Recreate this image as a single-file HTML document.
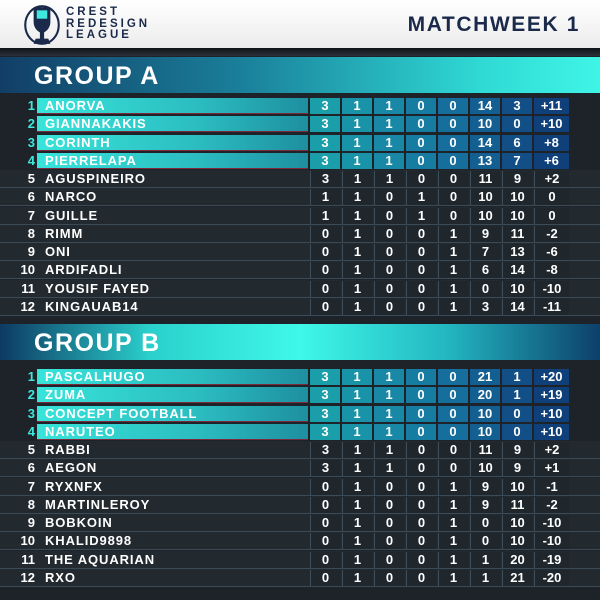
<!DOCTYPE html>
<html><head><meta charset="utf-8"><style>
*{margin:0;padding:0;box-sizing:border-box}
body{width:600px;height:600px;overflow:hidden;background:#1d2329;font-family:"Liberation Sans",sans-serif;font-weight:bold;color:#fff;position:relative}
.hdr{position:absolute;left:0;top:0;width:600px;height:48px;background:linear-gradient(#fff,#ececec)}
.hdr .t{position:absolute;left:66px;top:7px;color:#1b2a4a;font-size:11.5px;line-height:11.5px;letter-spacing:3px}
.hdr .mw{position:absolute;right:20px;top:13px;color:#1b2a4a;font-size:21px;letter-spacing:1.6px}
.strip{position:absolute;left:0;top:48px;width:600px;height:8px;background:linear-gradient(#0f1418,#2a3138)}
.ban{position:absolute;left:0;width:600px;height:36px}
.ban span{position:absolute;left:34px;top:5px;font-size:25px;letter-spacing:1.5px}
.a{top:57px;background:linear-gradient(90deg,#123e66 0%,#1a7f9a 40%,#2fd9d4 80%,#3ff5e6 100%)}
.b{top:324px;background:linear-gradient(90deg,#0d3a62 0%,#2ad0cc 25%,#3ff8e8 50%,#22b5c0 75%,#0d3f6a 100%)}
.row{position:absolute;left:0;width:600px;height:18px;font-size:13px;line-height:16px}
.row .n{position:absolute;left:0;width:35px;text-align:right;top:1px}
.row .nm{position:absolute;left:37px;width:271px;height:16px;top:1px;padding-left:8px;letter-spacing:.9px}
.row .c{position:absolute;top:1px;height:16px;text-align:center}
.d{background:#22292f;border-bottom:1px solid #3a4a57}
.d .c{background:#1f262c;border-left:1px solid #3d4d5a}
.q .n{color:#3ee8dc}
.q .nm{background:linear-gradient(90deg,#38e4da,#2bbcc0 60%,#1e8fa0);border-bottom:1px solid #7a2a3a}
</style></head><body>
<div class="hdr">
<svg style="position:absolute;left:21px;top:3px" width="42" height="44" viewBox="0 0 40 42"><ellipse cx="20" cy="21" rx="16" ry="18" fill="none" stroke="#1b2a4a" stroke-width="2"/><path d="M12 4h16v14c0 6-4 9-6 10v6h4l2 5H12l2-5h4v-6c-2-1-6-4-6-10z" fill="#1b2a4a"/><rect x="15" y="7" width="10" height="8" fill="#3ee8dc"/></svg>
<div class="t">CREST<br>REDESIGN<br>LEAGUE</div>
<div class="mw">MATCHWEEK 1</div>
</div>
<div class="strip"></div>
<div class="ban a"><span>GROUP A</span></div>
<div class="ban b"><span>GROUP B</span></div>
<div id="rows"></div>
<script>
var A=[["ANORVA",3,1,1,0,0,14,3,"+11"],["GIANNAKAKIS",3,1,1,0,0,10,0,"+10"],["CORINTH",3,1,1,0,0,14,6,"+8"],["PIERRELAPA",3,1,1,0,0,13,7,"+6"],["AGUSPINEIRO",3,1,1,0,0,11,9,"+2"],["NARCO",1,1,0,1,0,10,10,"0"],["GUILLE",1,1,0,1,0,10,10,"0"],["RIMM",0,1,0,0,1,9,11,"-2"],["ONI",0,1,0,0,1,7,13,"-6"],["ARDIFADLI",0,1,0,0,1,6,14,"-8"],["YOUSIF FAYED",0,1,0,0,1,0,10,"-10"],["KINGAUAB14",0,1,0,0,1,3,14,"-11"]];
var B=[["PASCALHUGO",3,1,1,0,0,21,1,"+20"],["ZUMA",3,1,1,0,0,20,1,"+19"],["CONCEPT FOOTBALL",3,1,1,0,0,10,0,"+10"],["NARUTEO",3,1,1,0,0,10,0,"+10"],["RABBI",3,1,1,0,0,11,9,"+2"],["AEGON",3,1,1,0,0,10,9,"+1"],["RYXNFX",0,1,0,0,1,9,10,"-1"],["MARTINLEROY",0,1,0,0,1,9,11,"-2"],["BOBKOIN",0,1,0,0,1,0,10,"-10"],["KHALID9898",0,1,0,0,1,0,10,"-10"],["THE AQUARIAN",0,1,0,0,1,1,20,"-19"],["RXO",0,1,0,0,1,1,21,"-20"]];
var xs=[310,342,374,406,438,470,502,534],ws=[30,30,30,30,30,30,30,35];
var qc=["#1a9eaa","#1993a8","#1888a6","#177ca2","#166e9c","#145f92","#124f86","#0f407a"];
var h="";
function g(L,top){for(var i=0;i<12;i++){var r=L[i],q=i<4;var y=top+i*18.27;
h+='<div class="row '+(q?'q':'d')+'" style="top:'+y.toFixed(1)+'px"><span class="n">'+(i+1)+'</span><span class="nm">'+r[0]+'</span>';
for(var j=0;j<8;j++)h+='<span class="c" style="left:'+xs[j]+'px;width:'+ws[j]+'px'+(q?';background:'+qc[j]:'')+'">'+r[j+1]+'</span>';
h+='</div>';}}
g(A,97);g(B,368);
document.getElementById("rows").innerHTML=h;
</script>
</body></html>
